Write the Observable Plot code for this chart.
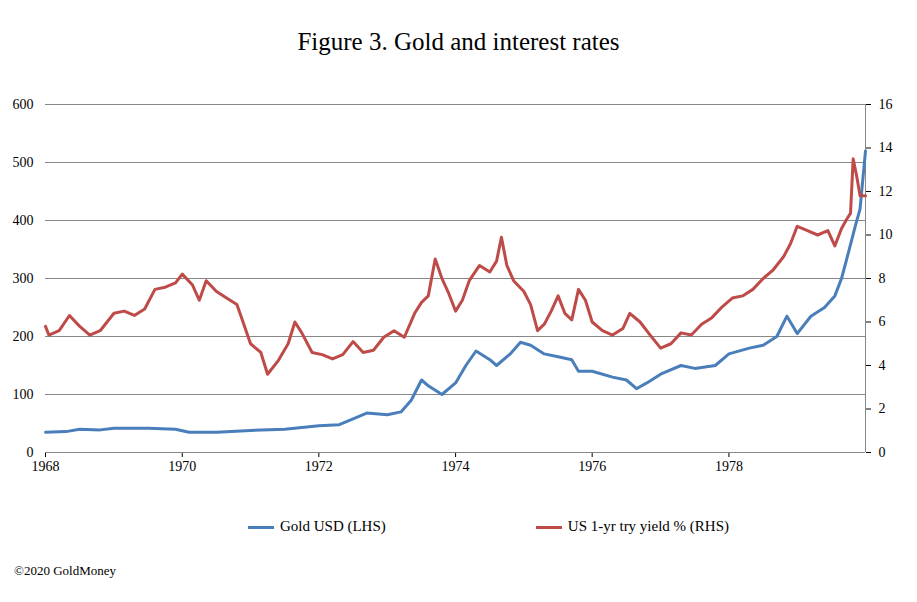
<!DOCTYPE html>
<html><head><meta charset="utf-8">
<script src="https://cdn.jsdelivr.net/npm/d3@7"></script>
<script src="https://cdn.jsdelivr.net/npm/@observablehq/plot@0.6"></script>
<style>
body{margin:0;background:#fff;font-family:"Liberation Serif",serif;width:917px}
#title{text-align:center;font-size:25px;padding-top:28px;height:90px;box-sizing:border-box}
#legend{display:flex;justify-content:center;gap:150px;font-size:15px;margin-top:42px;margin-left:60px}
#legend span i{display:inline-block;width:26px;height:3px;vertical-align:middle;margin-right:6px}
#cap{font-size:13px;margin:28px 0 0 14px}
</style></head><body>
<div id="title">Figure 3. Gold and interest rates</div>
<div id="chart"></div>
<div id="legend"><span><i style="background:#4a7ebb"></i>Gold USD (LHS)</span><span><i style="background:#be4b48"></i>US 1-yr try yield % (RHS)</span></div>
<div id="cap">©2020 GoldMoney</div>
<script>
const goldT=[1968,1968.3,1968.5,1968.8,1969,1969.5,1969.9,1970.1,1970.5,1971,1971.5,1972,1972.3,1972.5,1972.7,1973,1973.2,1973.35,1973.5,1973.6,1973.8,1974,1974.15,1974.3,1974.5,1974.6,1974.8,1974.95,1975.1,1975.3,1975.5,1975.7,1975.8,1976,1976.3,1976.5,1976.65,1976.8,1977,1977.3,1977.5,1977.8,1978,1978.3,1978.5,1978.7,1978.85,1979,1979.2,1979.4,1979.55,1979.65,1979.75,1979.85,1979.92,1980];
const goldV=[35,36,40,39,42,42,40,35,35,38,40,46,48,58,68,65,70,90,125,115,100,120,150,175,160,150,170,190,185,170,165,160,140,140,130,125,110,120,135,150,145,150,170,180,185,200,235,205,235,250,270,300,345,390,420,520];
const rateT=[1968,1968.05,1968.2,1968.35,1968.5,1968.65,1968.8,1968.9,1969,1969.15,1969.3,1969.45,1969.6,1969.75,1969.9,1970.0,1970.15,1970.25,1970.35,1970.5,1970.65,1970.8,1970.9,1971.0,1971.15,1971.25,1971.4,1971.55,1971.65,1971.75,1971.9,1972.05,1972.2,1972.35,1972.5,1972.65,1972.8,1972.95,1973.1,1973.25,1973.4,1973.5,1973.6,1973.7,1973.8,1973.9,1974.0,1974.1,1974.2,1974.35,1974.5,1974.6,1974.67,1974.75,1974.85,1975.0,1975.1,1975.2,1975.3,1975.4,1975.5,1975.6,1975.7,1975.8,1975.9,1976.0,1976.15,1976.3,1976.45,1976.55,1976.7,1976.85,1977.0,1977.15,1977.3,1977.45,1977.6,1977.75,1977.9,1978.05,1978.2,1978.35,1978.5,1978.65,1978.8,1978.9,1979.0,1979.15,1979.3,1979.45,1979.55,1979.65,1979.72,1979.78,1979.82,1979.87,1979.92,1980];
const rateV=[5.8,5.4,5.6,6.3,5.8,5.4,5.6,6.0,6.4,6.5,6.3,6.6,7.5,7.6,7.8,8.2,7.7,7.0,7.9,7.4,7.1,6.8,5.9,5.0,4.6,3.6,4.2,5.0,6.0,5.5,4.6,4.5,4.3,4.5,5.1,4.6,4.7,5.3,5.6,5.3,6.4,6.9,7.2,8.9,8.0,7.3,6.5,7.0,7.9,8.6,8.3,8.8,9.9,8.6,7.9,7.4,6.8,5.6,5.9,6.5,7.2,6.4,6.1,7.5,7.0,6.0,5.6,5.4,5.7,6.4,6.0,5.4,4.8,5.0,5.5,5.4,5.9,6.2,6.7,7.1,7.2,7.5,8.0,8.4,9.0,9.6,10.4,10.2,10.0,10.2,9.5,10.3,10.7,11.0,13.5,12.7,11.8,11.8];
const leftTicks=[0,100,200,300,400,500,600];
const rightTicks=[0,2,4,6,8,10,12,14,16];
const yearTicks=[1968,1970,1972,1974,1976,1978];
const toDate=t=>{const y=Math.floor(t);return new Date(y,0,1+Math.round((t-y)*365));};
const gold=goldT.map((t,i)=>({d:toDate(t),v:goldV[i]}));
const rate=rateT.map((t,i)=>({d:toDate(t),v:rateV[i]*37.5}));
const chart=Plot.plot({
 width:917,height:386,marginLeft:45,marginRight:52,marginTop:14,marginBottom:24,
 style:{fontFamily:"Liberation Serif",fontSize:"14px",color:"#000"},
 x:{type:"time",domain:[new Date(1968,0,1),new Date(1980,0,1)]},
 y:{domain:[0,600]},
 marks:[
  Plot.gridY(leftTicks,{stroke:"#888",strokeOpacity:1}),
  Plot.axisY({ticks:leftTicks,tickSize:0,tickPadding:12,label:null}),
  Plot.axisY({anchor:"right",ticks:rightTicks.map(r=>r*37.5),tickFormat:d=>String(d/37.5),tickSize:5,tickPadding:8,label:null}),
  Plot.ruleX([new Date(1980,0,1)],{stroke:"#888"}),
  Plot.axisX({ticks:yearTicks.map(y=>new Date(y,0,1)),tickFormat:d=>String(d.getFullYear()),tickSize:5,label:null}),
  Plot.ruleY([0],{stroke:"#888"}),
  Plot.line(gold,{x:"d",y:"v",stroke:"#4a7ebb",strokeWidth:3}),
  Plot.line(rate,{x:"d",y:"v",stroke:"#be4b48",strokeWidth:3})
 ]});
document.getElementById("chart").append(chart);
</script></body></html>
